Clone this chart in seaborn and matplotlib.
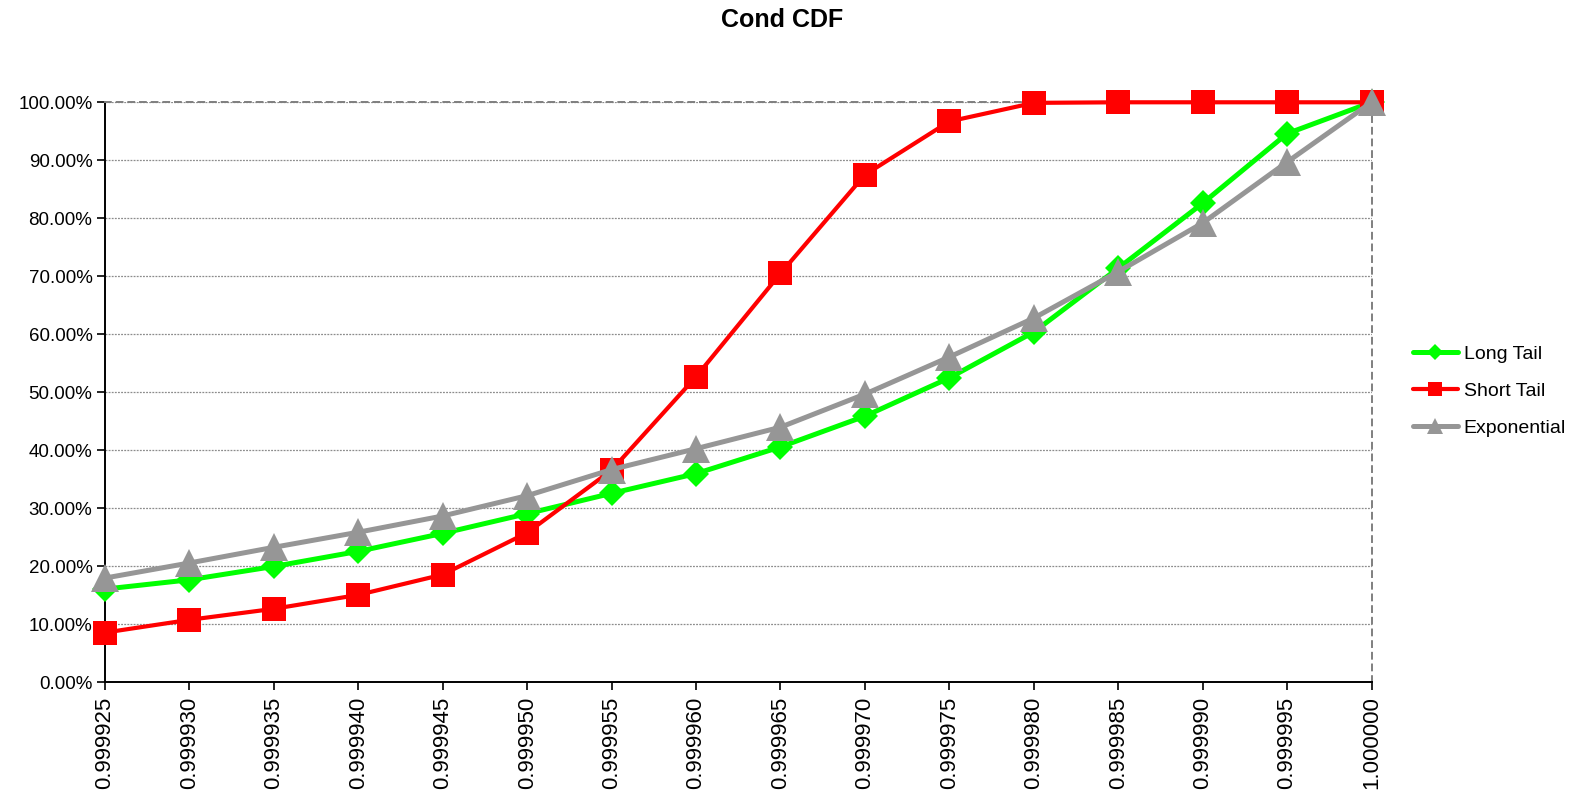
import numpy as np
import pandas as pd
import matplotlib
matplotlib.use('Agg')
import matplotlib.pyplot as plt
from matplotlib.ticker import PercentFormatter
import seaborn as sns

# Quantile categories on the x axis
quantiles = ['0.999925', '0.999930', '0.999935', '0.999940', '0.999945', '0.999950',
             '0.999955', '0.999960', '0.999965', '0.999970', '0.999975', '0.999980',
             '0.999985', '0.999990', '0.999995', '1.000000']

# CDF values (fractions)
long_tail = [0.161, 0.177, 0.200, 0.226, 0.257, 0.291, 0.326, 0.360, 0.406, 0.459,
             0.525, 0.604, 0.714, 0.826, 0.946, 1.000]
short_tail = [0.086, 0.108, 0.127, 0.151, 0.186, 0.258, 0.366, 0.527, 0.705, 0.875,
              0.967, 0.999, 1.000, 1.000, 1.000, 1.000]
exponential = [0.180, 0.206, 0.233, 0.259, 0.287, 0.322, 0.367, 0.403, 0.440, 0.497,
               0.561, 0.628, 0.708, 0.792, 0.897, 1.000]

series_names = ['Long Tail', 'Short Tail', 'Exponential']
colors = {'Long Tail': '#00FF00', 'Short Tail': '#FF0000', 'Exponential': '#969696'}
markers = {'Long Tail': 'D', 'Short Tail': 's', 'Exponential': '^'}
marker_sizes = {'Long Tail': 13, 'Short Tail': 17, 'Exponential': 20}
line_widths = {'Long Tail': 3.6, 'Short Tail': 3.0, 'Exponential': 3.6}

pos = np.arange(len(quantiles))
df = pd.concat([
    pd.DataFrame({'pos': pos, 'cdf': vals, 'series': name})
    for name, vals in zip(series_names, [long_tail, short_tail, exponential])
], ignore_index=True)

sns.set_theme(style='white')
plt.rcParams['font.family'] = ['Liberation Sans', 'DejaVu Sans']
plt.rcParams['text.color'] = 'black'
plt.rcParams['xtick.color'] = 'black'
plt.rcParams['ytick.color'] = 'black'

fig = plt.figure(figsize=(15.81, 7.96), dpi=100)
ax = fig.add_axes([0.0664, 0.1426, 0.8675 - 0.0664, 0.8715 - 0.1426])

for name in series_names:
    sub = df[df['series'] == name]
    sns.lineplot(data=sub, x='pos', y='cdf', ax=ax, color=colors[name],
                 marker=markers[name], markersize=marker_sizes[name],
                 markeredgewidth=0, linewidth=line_widths[name],
                 label=name, clip_on=False, zorder=3)

ax.set_xlim(0, len(quantiles) - 1)
ax.set_ylim(0, 1)
ax.set_xticks(pos)
ax.set_xticklabels(quantiles, rotation=90, fontsize=16)
ax.set_yticks(np.linspace(0, 1, 11))
ax.yaxis.set_major_formatter(PercentFormatter(xmax=1, decimals=2))
ax.tick_params(axis='y', labelsize=13.5, length=6, width=1.2,
               direction='out', left=True, pad=3)
ax.tick_params(axis='x', length=6, width=1.2, direction='out',
               bottom=True, pad=4)
ax.set_xlabel('')
ax.set_ylabel('')

ax.yaxis.grid(True, color='#8c8c8c', linestyle=(0, (1.5, 1)), linewidth=0.9)
ax.xaxis.grid(False)
ax.set_axisbelow(True)

for side in ['left', 'bottom']:
    ax.spines[side].set_color('black')
    ax.spines[side].set_linewidth(1.4)
for side in ['top', 'right']:
    ax.spines[side].set_color('#7f7f7f')
    ax.spines[side].set_linestyle((0, (3, 3)))
    ax.spines[side].set_linewidth(1.4)

fig.text(0.495, 0.975, 'Cond CDF', ha='center', va='center',
         fontsize=18, fontweight='bold', color='black')

leg = ax.legend(loc='center left', bbox_to_anchor=(1413 / 1581, 1 - 391 / 796),
                bbox_transform=fig.transFigure, frameon=False, fontsize=14,
                handlelength=2.3, handletextpad=0.3, labelspacing=1.0,
                borderpad=0, borderaxespad=0, markerscale=0.6)
for txt in leg.get_texts():
    txt.set_color('black')

plt.savefig('out.png', dpi=100)
plt.close()
